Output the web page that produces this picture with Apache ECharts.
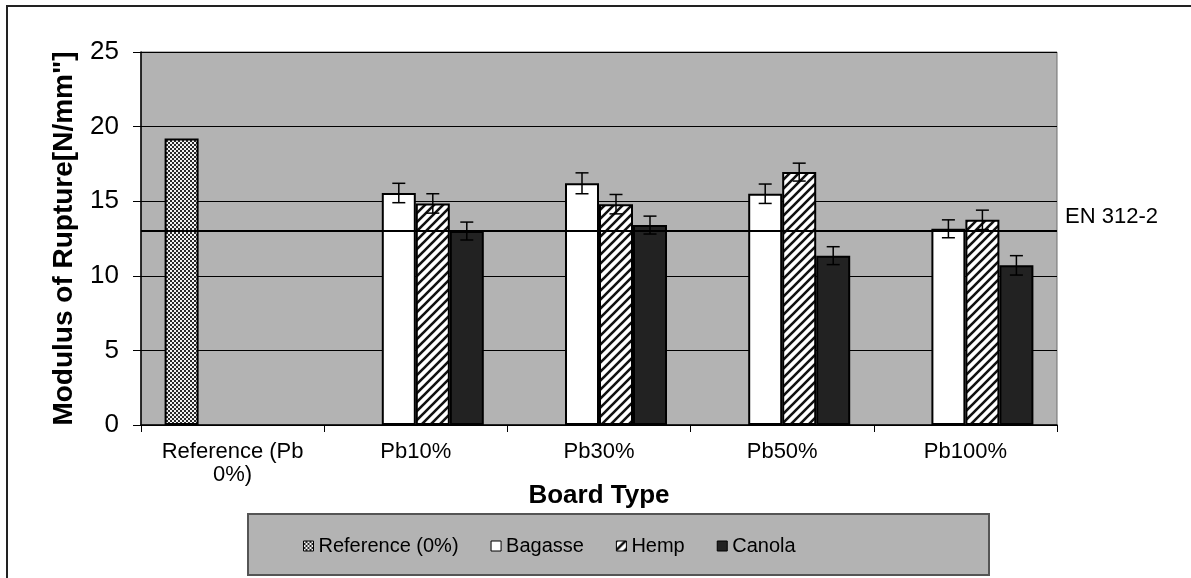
<!DOCTYPE html>
<html>
<head>
<meta charset="utf-8">
<script src="https://cdn.jsdelivr.net/npm/echarts@6/dist/echarts.min.js"></script>
<style>
html,body{margin:0;padding:0;background:#fff;}
#chart{width:1191px;height:578px;}
</style>
</head>
<body>
<div id="chart"></div>
<script>
// ---- data ----
const categories = ['Reference (Pb\n0%)', 'Pb10%', 'Pb30%', 'Pb50%', 'Pb100%'];
const seriesNames = ['Reference (0%)', 'Bagasse', 'Hemp', 'Canola'];
const referenceValues = [19.2, '-', '-', '-', '-'];
const bagasseValues = ['-', 15.55, 16.2, 15.5, 13.15];
const hempValues = ['-', 14.85, 14.8, 16.95, 13.75];
const canolaValues = ['-', 13.0, 13.4, 11.35, 10.7];
const bagasseErrors = [null, 0.65, 0.7, 0.65, 0.6];
const hempErrors = [null, 0.65, 0.65, 0.6, 0.65];
const canolaErrors = [null, 0.6, 0.6, 0.6, 0.65];
const yTicks = [0, 5, 10, 15, 20, 25];
const standardValue = 13;
const standardLabel = 'EN 312-2';

// ---- patterns ----
function checkerPattern() {
  const c = document.createElement('canvas');
  c.width = 4; c.height = 4;
  const g = c.getContext('2d');
  g.fillStyle = '#2a2a2a'; g.fillRect(0, 0, 4, 4);
  g.fillStyle = '#f2f2f2';
  g.fillRect(0, 0, 2, 2); g.fillRect(2, 2, 2, 2);
  return c;
}
function hatchPattern() {
  const s = 9;
  const c = document.createElement('canvas');
  c.width = s; c.height = s;
  const g = c.getContext('2d');
  g.fillStyle = '#ffffff'; g.fillRect(0, 0, s, s);
  g.strokeStyle = '#111'; g.lineWidth = 2.6;
  g.beginPath();
  g.moveTo(0, s); g.lineTo(s, 0);
  g.moveTo(-s / 2, s / 2); g.lineTo(s / 2, -s / 2);
  g.moveTo(s / 2, s + s / 2); g.lineTo(s + s / 2, s / 2);
  g.stroke();
  return c;
}
const colors = [
  { image: checkerPattern(), repeat: 'repeat' },
  '#ffffff',
  { image: hatchPattern(), repeat: 'repeat' },
  '#222222'
];

const BAR_W = 34;
const FONT = '"Liberation Sans", Arial, sans-serif';

function barSeries(i, values) {
  return {
    name: seriesNames[i],
    type: 'bar',
    data: values,
    barWidth: BAR_W,
    barGap: '0%',
    itemStyle: { color: colors[i], borderColor: '#000', borderWidth: 2 },
    z: 2
  };
}

function errorSeries(i, values, errs) {
  const data = [];
  values.forEach((v, k) => {
    if (v !== '-' && errs[k] != null) data.push([k, v, errs[k]]);
  });
  return {
    type: 'custom',
    name: seriesNames[i] + ' err',
    data: data,
    z: 5,
    silent: true,
    renderItem: function (params, api) {
      const k = api.value(0), v = api.value(1), e = api.value(2);
      const top = api.coord([k, v + e]);
      const bot = api.coord([k, v - e]);
      const x = top[0] + (i - 1.5) * BAR_W;
      const cap = 6.5;
      const st = { stroke: '#000', lineWidth: 1.5 };
      return {
        type: 'group',
        children: [
          { type: 'line', shape: { x1: x, y1: top[1], x2: x, y2: bot[1] }, style: st },
          { type: 'line', shape: { x1: x - cap, y1: top[1], x2: x + cap, y2: top[1] }, style: st },
          { type: 'line', shape: { x1: x - cap, y1: bot[1], x2: x + cap, y2: bot[1] }, style: st }
        ]
      };
    }
  };
}

const chart = echarts.init(document.getElementById('chart'), null, { renderer: 'canvas' });

const canola = barSeries(3, canolaValues);
canola.markLine = {
  silent: true,
  symbol: 'none',
  lineStyle: { color: '#000', width: 2, type: 'solid' },
  label: {
    show: true,
    position: 'end',
    formatter: standardLabel,
    color: '#000',
    fontFamily: FONT,
    fontSize: 22,
    distance: 8,
    verticalAlign: 'bottom',
    padding: [0, 0, 3, 0]
  },
  data: [{ yAxis: standardValue }]
};

chart.setOption({
  animation: false,
  backgroundColor: '#ffffff',
  textStyle: { fontFamily: FONT },
  grid: {
    left: 141, right: 134, top: 52, bottom: 153,
    show: true, backgroundColor: '#b3b3b3', borderColor: '#6e6e6e', borderWidth: 1
  },
  graphic: [
    { type: 'rect', shape: { x: 7, y: 6, width: 1200, height: 600 },
      style: { fill: 'none', stroke: '#222', lineWidth: 2 }, z: -10, silent: true },
    { type: 'rect', shape: { x: 248, y: 514, width: 741, height: 61 },
      style: { fill: '#b3b3b3', stroke: '#555', lineWidth: 2 }, z: -5, silent: true }
  ],
  legend: {
    data: seriesNames,
    left: 298,
    top: 531,
    itemWidth: 10,
    itemHeight: 10,
    itemGap: 32,
    itemStyle: { borderColor: '#000', borderWidth: 1 },
    textStyle: { color: '#000', fontSize: 20, fontFamily: FONT },
    icon: 'rect'
  },
  xAxis: {
    type: 'category',
    data: categories,
    name: 'Board Type',
    nameLocation: 'middle',
    nameGap: 58,
    nameMoveOverlap: false,
    nameTextStyle: { color: '#000', fontSize: 26, fontWeight: 'bold', fontFamily: FONT },
    axisLine: { lineStyle: { color: '#000', width: 1.5 } },
    axisTick: { show: true, length: 7, lineStyle: { color: '#000' } },
    axisLabel: { color: '#000', fontSize: 22, fontFamily: FONT, margin: 15, lineHeight: 23, interval: 0 },
    splitLine: { show: false }
  },
  yAxis: {
    type: 'value',
    min: yTicks[0],
    max: yTicks[yTicks.length - 1],
    interval: yTicks[1] - yTicks[0],
    name: 'Modulus of Rupture[N/mm"]',
    nameLocation: 'middle',
    nameRotate: 90,
    nameGap: 63,
    nameTextStyle: { color: '#000', fontSize: 28, fontWeight: 'bold', fontFamily: FONT },
    axisLine: { show: true, lineStyle: { color: '#000', width: 1.5 } },
    axisTick: { show: true, length: 8, lineStyle: { color: '#000' } },
    axisLabel: { color: '#000', fontSize: 26, fontFamily: FONT, margin: 22 },
    splitLine: { show: true, lineStyle: { color: '#000', width: 1 } }
  },
  series: [
    barSeries(0, referenceValues),
    barSeries(1, bagasseValues),
    barSeries(2, hempValues),
    canola,
    errorSeries(1, bagasseValues, bagasseErrors),
    errorSeries(2, hempValues, hempErrors),
    errorSeries(3, canolaValues, canolaErrors)
  ]
});
</script>
</body>
</html>
